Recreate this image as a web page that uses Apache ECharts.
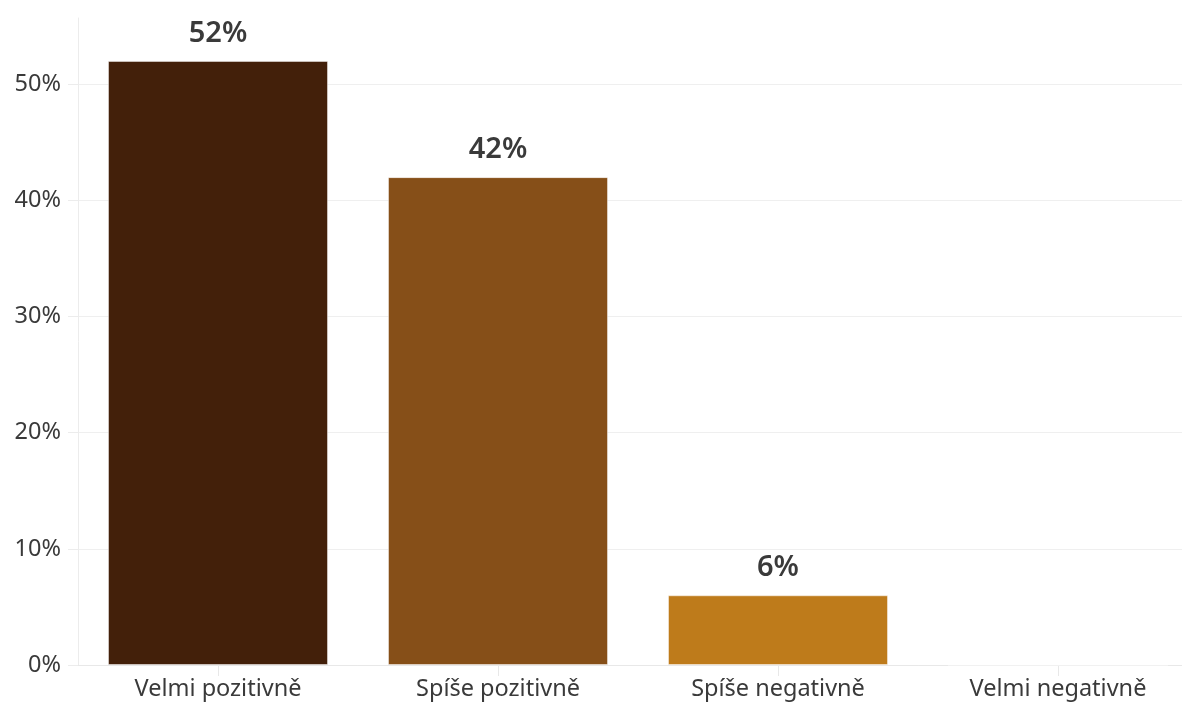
<!DOCTYPE html>
<html>
<head>
<meta charset="utf-8">
<script src="https://cdn.jsdelivr.net/npm/echarts@6/dist/echarts.min.js"></script>
<style>
html,body{margin:0;padding:0;background:#fff;overflow:hidden;width:1182px;height:702px;}
#c{width:1198px;height:702px;}
</style>
</head>
<body>
<div id="c"></div>
<script>
const categories = ['Velmi pozitivně', 'Spíše pozitivně', 'Spíše negativně', 'Velmi negativně'];
const values = [52, 42, 6, 0];
const barColors = ['#43200A', '#864F18', '#BE7B1B', '#D9A441'];
const yTicks = [0, 10, 20, 30, 40, 50];

const chart = echarts.init(document.getElementById('c'), null, {renderer: 'canvas'});
const FONT = 'Noto Sans';
chart.setOption({
  animation: false,
  backgroundColor: '#fff',
  grid: {left: 78, right: 0, top: 18, bottom: 37, containLabel: false},
  xAxis: {
    type: 'category',
    data: categories,
    axisLine: {show: true, lineStyle: {color: '#e8e8e8', width: 1}},
    axisTick: {show: true, alignWithLabel: true, length: 11, lineStyle: {color: '#e8e8e8'}},
    axisLabel: {color: '#3a3a3a', fontSize: 23.5, fontFamily: FONT, margin: 12},
    splitLine: {show: false}
  },
  yAxis: {
    type: 'value',
    min: 0,
    max: 55.7,
    interval: 10,
    axisLine: {show: true, lineStyle: {color: '#ececec', width: 1}},
    axisTick: {show: true, length: 10, lineStyle: {color: '#ececec'}},
    axisLabel: {
      color: '#3a3a3a', fontSize: 23.5, fontFamily: FONT, margin: 17,
      showMaxLabel: false,
      formatter: v => (yTicks.indexOf(v) >= 0 ? v + '%' : '')
    },
    splitLine: {show: true, showMaxLine: false, lineStyle: {color: '#efefef', width: 1}}
  },
  series: [{
    type: 'bar',
    data: values.map((v, i) => ({value: v, itemStyle: {color: barColors[i]}})),
    barWidth: 220,
    itemStyle: {borderColor: 'rgba(255,255,255,0.45)', borderWidth: 1},
    label: {
      show: true,
      position: 'top',
      distance: 13,
      color: '#3a3a3a',
      fontSize: 29,
      fontWeight: 600,
      fontFamily: FONT,
      formatter: p => (p.value ? p.value + '%' : '')
    }
  }]
});
</script>
</body>
</html>
